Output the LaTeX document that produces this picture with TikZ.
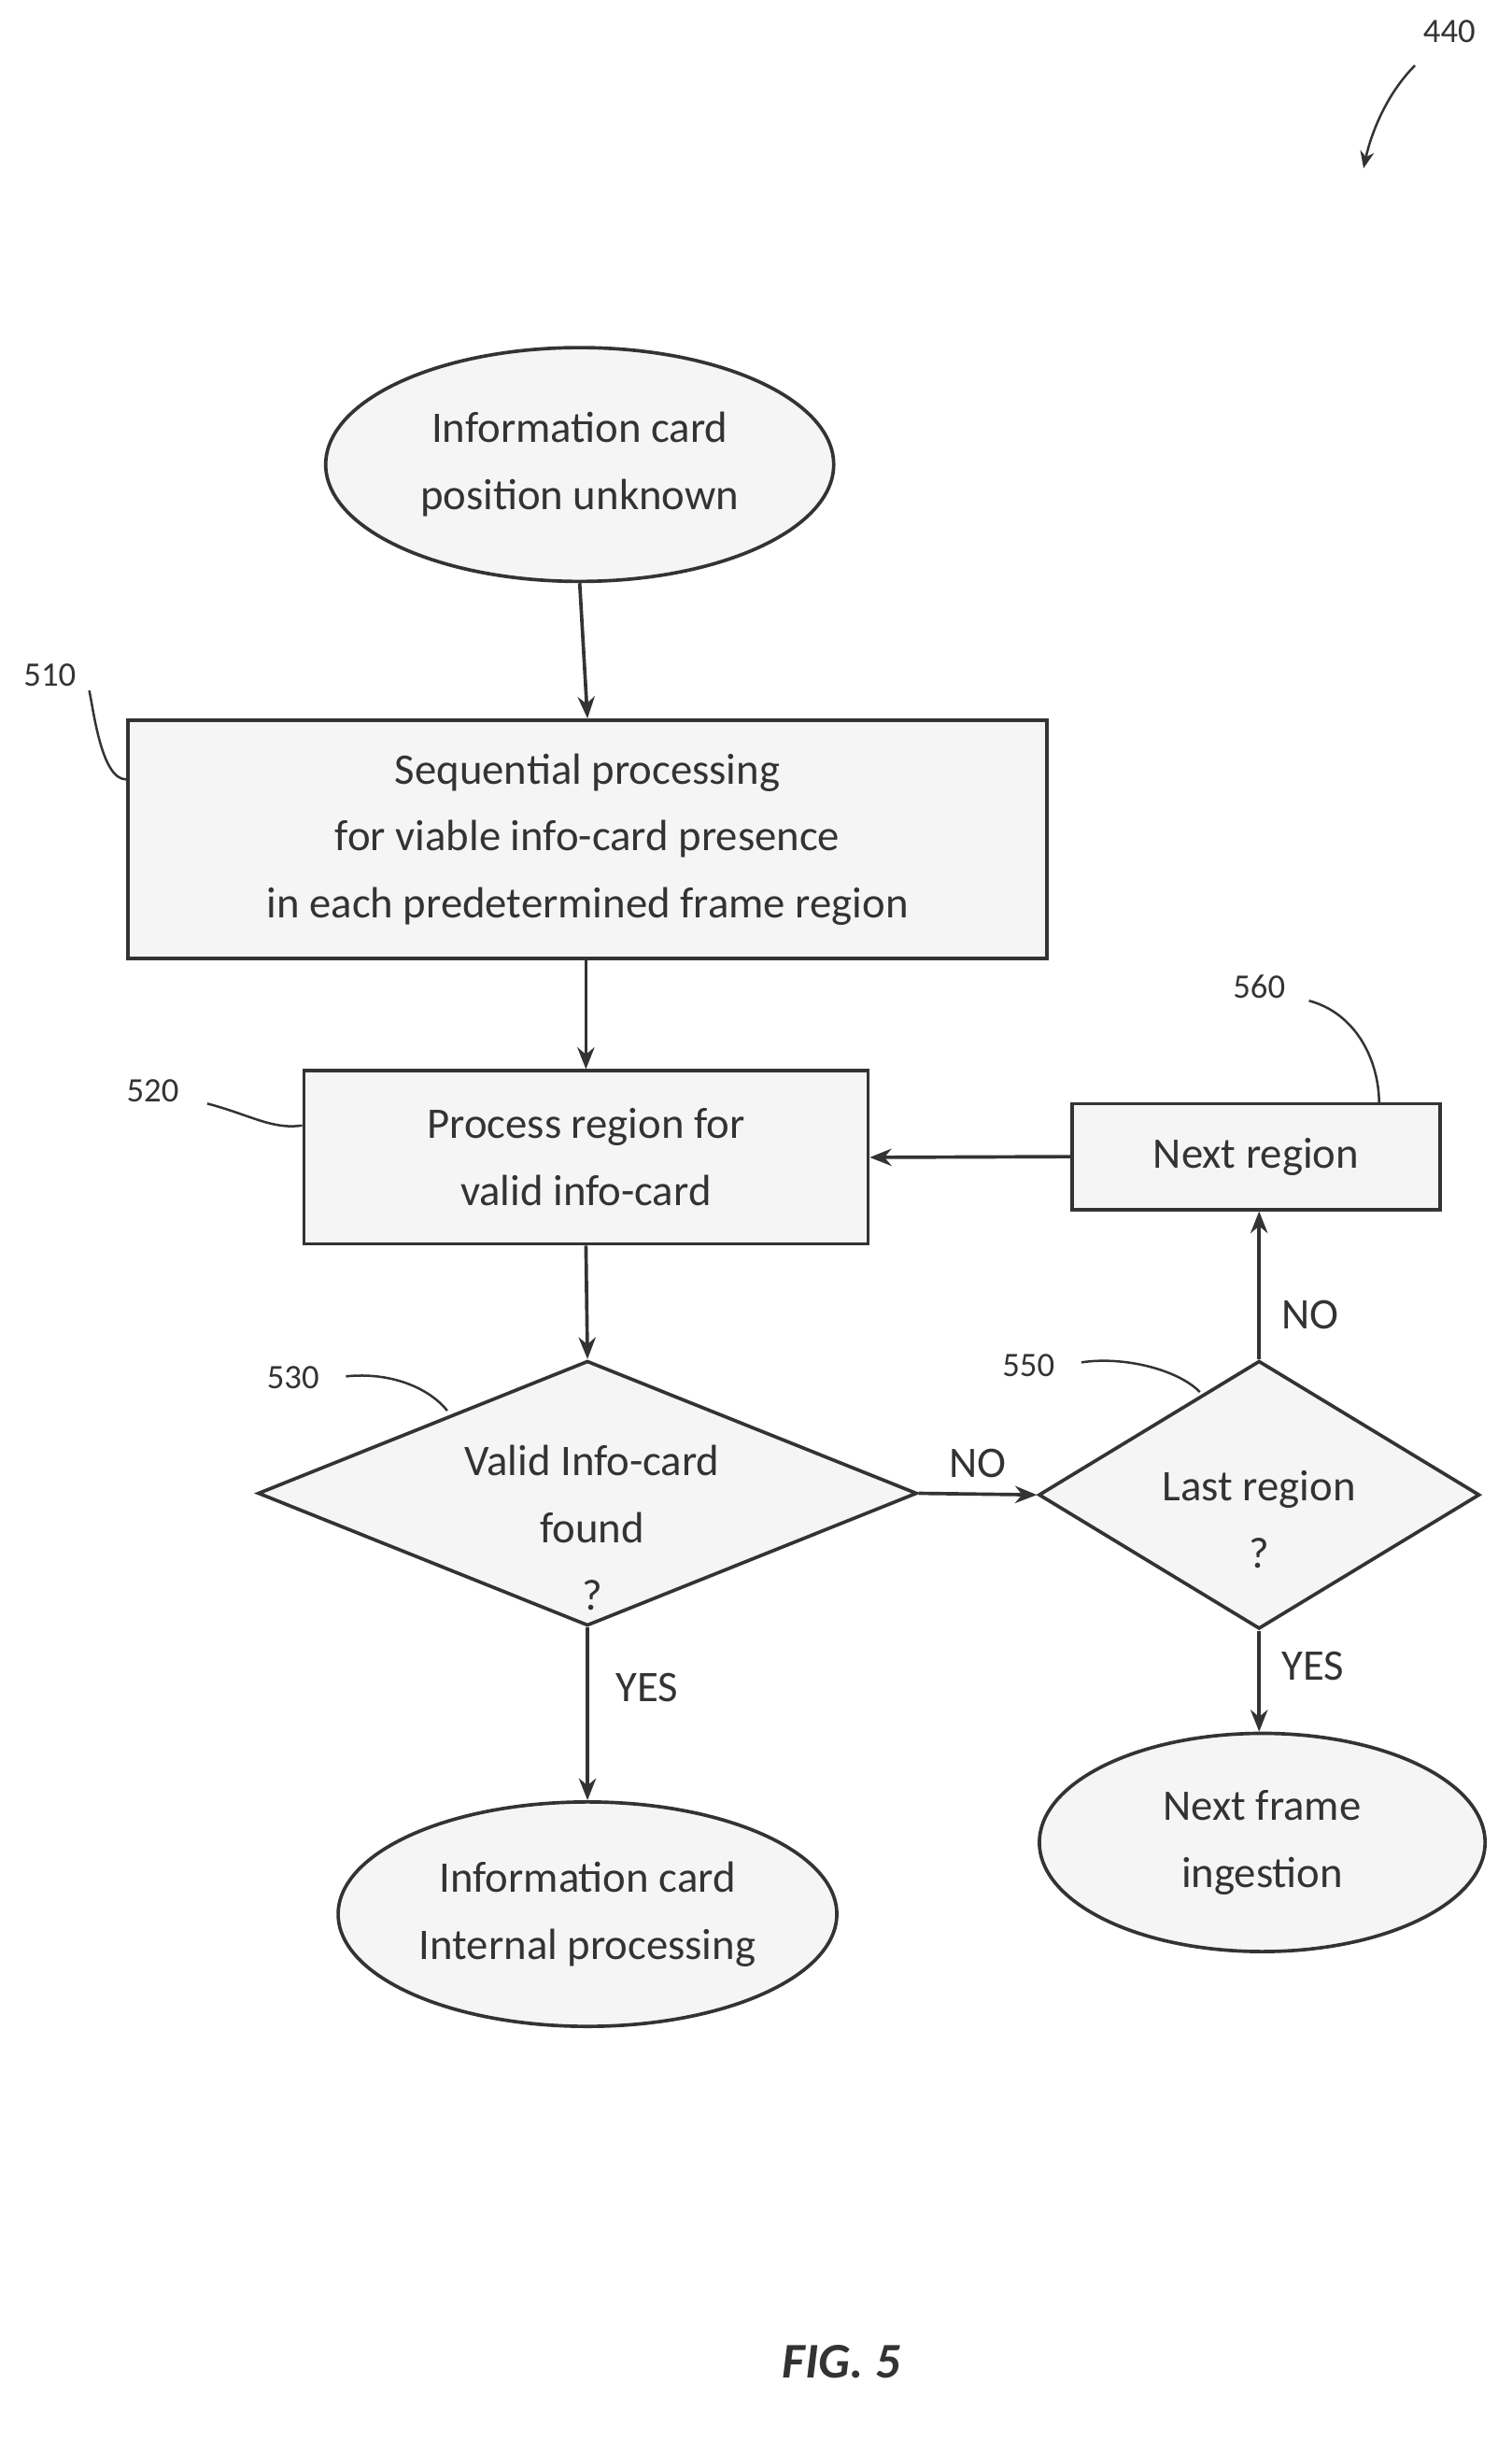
\documentclass[tikz,border=0pt]{standalone}
\usepackage{fontspec}
\setmainfont{Carlito}
\usetikzlibrary{shapes.geometric,arrows.meta}
\begin{document}
\begin{tikzpicture}[x=1pt,y=-1pt,
  every node/.style={font=\fontsize{28}{43}\selectfont, text=black!80},
  sh/.style={draw=black!80, line width=2.2pt, fill=black!4, align=center, inner sep=0pt},
  ar/.style={draw=black!80, line width=2.2pt, -{Stealth[length=14pt,width=11pt]}},
  ld/.style={draw=black!80, line width=1.5pt},
  lab/.style={font=\fontsize{22}{26}\selectfont}]
\useasboundingbox (0,0) rectangle (970,1566);
\node[sh, ellipse, minimum width=326pt, minimum height=150pt] (start) at (372,298) {Information card\\position unknown};
\node[sh, rectangle, minimum width=590pt, minimum height=153pt] (b510) at (377,538.5) {Sequential processing\\for viable info-card presence\\in each predetermined frame region};
\node[sh, rectangle, minimum width=362pt, minimum height=111pt] (b520) at (376,742.5) {Process region for\\valid info-card};
\node[sh, diamond, aspect=2.5, minimum width=423pt, minimum height=170pt] (d530) at (377,958) {};
\node[align=center] at (380,980) {Valid Info-card\\found\\?};
\node[sh, diamond, aspect=1.65, minimum width=283pt, minimum height=172pt] (d550) at (808,959) {};
\node[align=center] at (808,975) {Last region\\?};
\node[sh, rectangle, minimum width=236pt, minimum height=68pt] (b560) at (806,742) {Next region};
\node[sh, ellipse, minimum width=286pt, minimum height=140pt] (e2) at (810,1182) {Next frame\\ingestion};
\node[sh, ellipse, minimum width=320pt, minimum height=144pt] (e1) at (377,1228) {Information card\\Internal processing};
\draw[ar] (start.south) -- (b510.north);
\draw[ar] (b510.south -| b520.north) -- (b520.north);
\draw[ar] (b520.south) -- (d530.north);
\draw[ar] (d530.east) -- node[above=6pt] {NO} (d550.west);
\draw[ar] (d550.north) -- node[right=10pt, pos=0.3] {NO} (b560.south -| d550.north);
\draw[ar] (b560.west) -- (b520.east);
\draw[ar] (d550.south) -- node[right=10pt, pos=0.35] {YES} (e2.north -| d550.south);
\draw[ar] (d530.south) -- node[right=14pt, pos=0.35] {YES} (e1.north);
% reference labels
\node[lab] (l440) at (930,20) {440};
\coordinate (a440) at (875,108);
\draw[ar, line width=1.5pt, -{Stealth[length=11pt,width=9pt]}] (908,42) .. controls (890,60) and (880,85) .. (a440);
\node[lab] (l510) at (32,433) {510};
\draw[ld] (l510.east) ++(5,10) .. controls (60,455) and (65,500) .. (b510.west |- 0,500);
\node[lab] (l520) at (98,700) {520};
\draw[ld] (133,708) .. controls (160,715) and (175,725) .. (b520.west |- 0,722);
\node[lab] (l530) at (188,884) {530};
\draw[ld] (222,883) .. controls (250,880) and (275,890) .. (287,905);
\node[lab] (l550) at (660,876) {550};
\draw[ld] (694,874) .. controls (720,870) and (755,878) .. (770,893);
\node[lab] (l560) at (808,633) {560};
\draw[ld] (840,642) .. controls (870,650) and (885,680) .. (885,708);
\node[font=\fontsize{32}{36}\selectfont\bfseries\itshape] (fig) at (540,1515) {FIG. 5};
\end{tikzpicture}
\end{document}
